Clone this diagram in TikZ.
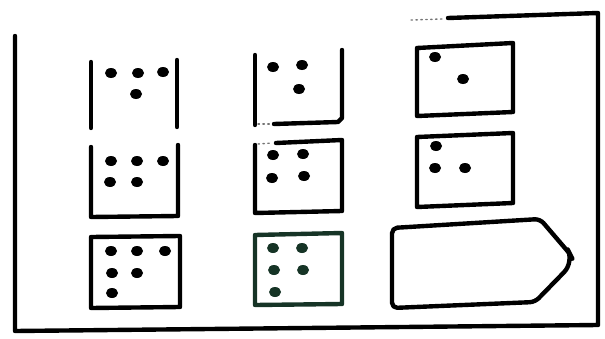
\documentclass[tikz,border=0pt]{standalone}
\definecolor{inkgreen}{RGB}{22,52,38}
\begin{document}
\begin{tikzpicture}[x=0.02cm,y=-0.02cm,line width=2.5pt,line join=round,line cap=round,
  dot/.style={fill=black},
  greendot/.style={fill=inkgreen},
  faint/.style={line width=0.8pt,dotted,black!55}]
\useasboundingbox (0,0) rectangle (605,338);

\draw (448,18) -- (598,13) -- (598,325) -- (15,331) -- (15,36);
\draw[faint] (411,20) -- (442,19);

\draw (91,62) -- (91,128);
\draw (177,60) -- (177,127);
\foreach \x/\y in {111/73,138/73,163/72,136/94}
  \fill[dot] (\x,\y) ellipse (6 and 5);

\draw (255,55) -- (255,125);
\draw (342,50) -- (342,118) -- (338,122) -- (274,124);
\draw[faint] (258,124) -- (272,124);
\foreach \x/\y in {273/67,302/65,299/89}
  \fill[dot] (\x,\y) ellipse (6 and 5);

\draw (417,48) -- (513,43) -- (513,112) -- (417,116) -- cycle;
\foreach \x/\y in {435/57,463/79}
  \fill[dot] (\x,\y) ellipse (6 and 5);

\draw (91,147) -- (91,217) -- (178,216) -- (178,145);
\foreach \x/\y in {111/161,137/161,163/161,110/182,137/182}
  \fill[dot] (\x,\y) ellipse (6 and 5);

\draw (255,145) -- (255,213) -- (342,211) -- (342,140) -- (276,143);
\draw[faint] (258,144) -- (272,143);
\foreach \x/\y in {273/155,303/154,272/178,304/176}
  \fill[dot] (\x,\y) ellipse (6 and 5);

\draw (417,137) -- (513,133) -- (513,203) -- (417,207) -- cycle;
\foreach \x/\y in {436/146,435/168,465/168}
  \fill[dot] (\x,\y) ellipse (6 and 5);

\draw (91,237) -- (180,236) -- (180,307) -- (91,308) -- cycle;
\foreach \x/\y in {111/251,137/251,165/251,112/273,137/273,112/293}
  \fill[dot] (\x,\y) ellipse (6 and 5);

\draw[inkgreen] (255,235) -- (342,233) -- (342,304) -- (255,305) -- cycle;
\foreach \x/\y in {273/248,302/248,274/270,303/270,275/292}
  \fill[greendot] (\x,\y) ellipse (6 and 5);

\draw[rounded corners=3pt] (392,308) -- (392,228) -- (540,219) -- (570,254)
  [rounded corners=8pt] -- (574,262) [rounded corners=3pt] -- (535,302) -- cycle;

\end{tikzpicture}
\end{document}
